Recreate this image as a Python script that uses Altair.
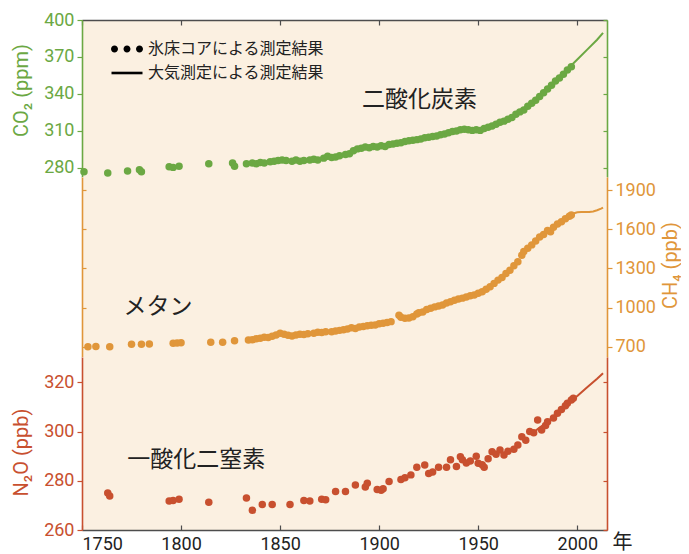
import altair as alt
import pandas as pd

# ---------------- data ----------------
co2_core_year = [1751, 1763, 1773, 1779, 1780, 1794, 1796, 1799, 1814, 1826, 1827,
                 1833, 1836, 1838, 1840, 1842, 1845, 1847, 1849, 1851, 1853, 1856,
                 1858, 1860, 1862, 1865, 1867, 1869, 1872, 1874, 1876, 1878, 1880,
                 1883, 1885, 1887, 1889, 1891, 1893, 1895, 1897,
                 1899, 1901, 1903, 1905, 1907, 1909, 1911, 1913, 1915, 1917,
                 1919, 1921, 1923, 1925, 1927, 1929, 1931, 1933, 1935, 1937,
                 1939, 1941, 1943, 1945, 1947, 1949, 1951, 1953, 1955, 1957,
                 1959, 1961, 1963, 1965, 1967, 1969, 1971, 1973, 1975, 1977,
                 1979, 1981, 1983, 1985, 1987, 1989, 1991, 1993, 1995, 1997]
co2_core_ppm = [277, 276, 277.5, 278.5, 277, 281, 280.5, 281.5, 283.5, 284, 281.5,
                283.5, 284, 283.5, 284.5, 284, 285, 285.5, 286, 286.5, 286, 285.5,
                286.5, 285.5, 286, 286.5, 287, 286.5, 288, 289.5, 288.5, 289, 290,
                291, 291.5, 294, 295.5, 296, 297, 296.5, 297.5,
                297, 298, 297.5, 299, 299.5, 300, 300.5, 301.5, 302, 302.5,
                303, 303.5, 304.5, 305, 305.5, 306, 307, 307.5, 308.5, 309.5,
                310, 311, 311.5, 311, 310.5, 311, 310.5, 312, 313, 314,
                315.5, 317, 318, 319.5, 321, 323.5, 325.5, 327, 330, 332.5,
                335, 338, 341, 344, 347, 350.5, 353, 356, 359.5, 362]
co2_atm_year = [1958, 1960, 1965, 1970, 1975, 1980, 1985, 1990, 1995, 2000, 2005, 2010, 2013]
co2_atm_ppm = [315, 316.5, 319.5, 325, 331, 338, 345, 353, 360, 368, 376, 384, 389.5]

ch4_core_year = [1753, 1757, 1764, 1775, 1780, 1784, 1796, 1798, 1800, 1815,
                 1821, 1827, 1834, 1836, 1838, 1840, 1842, 1844, 1846, 1848,
                 1850, 1852, 1854, 1856, 1858, 1860, 1862, 1864, 1867, 1869,
                 1871, 1873, 1876, 1878, 1880, 1882, 1884, 1886, 1888, 1890,
                 1892, 1894, 1896, 1898, 1900, 1902, 1904, 1906, 1910, 1911,
                 1913, 1915, 1917, 1919, 1920, 1922, 1924, 1926, 1928, 1930,
                 1932, 1934, 1936, 1938, 1940, 1942, 1944, 1946, 1948, 1950,
                 1952, 1954, 1956, 1958, 1960, 1962, 1964, 1966, 1968, 1970,
                 1972, 1973, 1975, 1977, 1979, 1981, 1983, 1985, 1986.5, 1988,
                 1990, 1992, 1994, 1996, 1997]
ch4_core_ppb = [700, 702, 700, 718, 718, 720, 726, 728, 730, 734,
                734, 745, 751, 753, 760, 765, 772, 770, 780, 790,
                803, 795, 788, 782, 790, 795, 793, 800, 803, 810,
                808, 815, 815, 820, 825, 830, 835, 845, 840, 850,
                855, 860, 865, 866, 875, 880, 885, 892, 940, 925,
                918, 920, 930, 950, 960, 965, 985, 995, 1005, 1012,
                1020, 1035, 1045, 1055, 1065, 1072, 1080, 1090, 1096, 1110,
                1120, 1140, 1160, 1185, 1210, 1230, 1260, 1285, 1320, 1350,
                1400, 1430, 1455, 1480, 1510, 1540, 1560, 1590, 1580, 1615,
                1640, 1657, 1680, 1700, 1709]
ch4_atm_year = [1981, 1984, 1986, 1988, 1990, 1992, 1994, 1996, 1998, 2000,
                2002, 2004, 2006, 2008, 2010, 2012, 2013]
ch4_atm_ppb = [1545, 1580, 1600, 1625, 1645, 1662, 1685, 1705, 1720, 1730,
               1732, 1731, 1732, 1736, 1745, 1758, 1766]

n2o_core_year = [1763, 1764, 1794, 1796, 1799, 1814, 1833, 1836, 1841, 1846,
                 1855, 1862, 1865, 1871, 1873, 1878, 1883, 1888, 1893, 1894,
                 1899, 1901, 1902, 1905, 1911, 1913, 1916, 1919, 1923, 1925,
                 1927, 1930, 1934, 1936, 1939, 1941, 1942, 1944, 1946, 1949,
                 1950, 1952, 1953, 1955, 1957, 1959, 1961, 1963, 1965, 1968,
                 1970, 1972, 1974, 1976, 1978, 1980, 1982, 1984, 1985, 1988,
                 1990, 1992, 1994, 1995, 1997, 1998]
n2o_core_ppb = [275, 273.8, 271.8, 272, 272.5, 271.3, 273, 268, 270.4, 270.4,
                270.4, 272, 271.8, 272.5, 272.3, 275.6, 275.6, 278.3, 277.5, 279,
                276.5, 276.2, 276.8, 279.7, 280.5, 281.2, 282.4, 285.5, 286.4, 283,
                283.6, 285.5, 285.5, 288.5, 285.8, 289.8, 288.5, 287.2, 288, 290,
                287.1, 286.5, 285.5, 289, 291.8, 290.8, 292.5, 290.5, 292, 292.8,
                294.5, 297.9, 296.5, 300, 299.5, 304.7, 300.6, 302.5, 304, 305.5,
                307.4, 309, 310.5, 311.5, 312.8, 313.5]
n2o_atm_year = [1978, 1980, 1985, 1990, 1995, 2000, 2005, 2010, 2013]
n2o_atm_ppb = [299.5, 301, 304, 307.5, 311, 314.5, 318, 321.5, 323.7]

x_ticks = [1750, 1800, 1850, 1900, 1950, 2000]
co2_ticks = [280, 310, 340, 370, 400]
ch4_ticks = [700, 1000, 1300, 1600, 1900]
n2o_ticks = [260, 280, 300, 320]

legend_labels = ["氷床コアによる測定結果", "大気測定による測定結果"]
gas_names = ["二酸化炭素", "メタン", "一酸化二窒素"]
gas_name_year = [1891.3, 1770.9, 1772.8]
gas_name_value = [335.1, 1006, 288.5]

# ---------------- style ----------------
W = 525
H_CO2, H_CH4, H_N2O = 157, 180, 173
X_DOMAIN = [1750, 2015]
CO2_DOMAIN = [272.7, 400]
CH4_DOMAIN = [621, 2000]
N2O_DOMAIN = [260, 330.3]

GREEN = "#6BA843"
ORANGE = "#E0963A"
RED = "#C8502F"
BG = "#FBF0E1"
DARK = "#4d4d4d"
INK = "#222222"
NUM_FONT = "Roboto"
JP_FONT = "Noto Sans CJK JP"

# legend symbols (unit coordinates; filled shapes)
DOTS_PATH = ("M-3.2,0a0.7,0.7 0 1,0 1.4,0a0.7,0.7 0 1,0 -1.4,0"
             "M-0.7,0a0.7,0.7 0 1,0 1.4,0a0.7,0.7 0 1,0 -1.4,0"
             "M1.8,0a0.7,0.7 0 1,0 1.4,0a0.7,0.7 0 1,0 -1.4,0")
LINE_PATH = "M-3.1,-0.26H3.1V0.26H-3.1Z"


def xs():
    return alt.Scale(domain=X_DOMAIN, nice=False, zero=False)


def ys(dom):
    return alt.Scale(domain=dom, nice=False, zero=False)


def y_labeled(orient, color, ticks, title, title_pad, title_y, angle=None, baseline=None):
    kw = dict(orient=orient, values=ticks, title=title, grid=False, format="d",
              domainColor=color, domainWidth=1.6, tickColor=color, tickSize=5,
              tickWidth=1.2, labelColor=color, labelFont=NUM_FONT, labelFontSize=18,
              labelPadding=3, titleColor=color, titleFont=NUM_FONT,
              titleFontSize=20, titleFontWeight="normal", titlePadding=title_pad,
              titleY=title_y)
    if angle is not None:
        kw["titleAngle"] = angle
    if baseline is not None:
        kw["titleBaseline"] = baseline
    return alt.Axis(**kw)


def y_inward(orient, color, ticks):
    return alt.Axis(orient=orient, offset=-W, values=ticks, labels=False, title=None,
                    grid=False, domainColor=color, domainWidth=1.6, tickColor=color,
                    tickSize=4, tickWidth=1.2)


def points(years, vals, color, dom, xaxis, yaxis):
    df = pd.DataFrame({"year": years, "value": vals})
    return alt.Chart(df).mark_circle(size=56, color=color, opacity=1).encode(
        x=alt.X("year:Q", scale=xs(), axis=xaxis),
        y=alt.Y("value:Q", scale=ys(dom), axis=yaxis),
    )


def line(years, vals, color, dom, xaxis, yaxis):
    df = pd.DataFrame({"year": years, "value": vals})
    return alt.Chart(df).mark_line(color=color, strokeWidth=2).encode(
        x=alt.X("year:Q", scale=xs(), axis=xaxis),
        y=alt.Y("value:Q", scale=ys(dom), axis=yaxis),
    )


def name_label(i, dom):
    df = pd.DataFrame({"year": [gas_name_year[i]], "value": [gas_name_value[i]],
                       "name": [gas_names[i]]})
    return alt.Chart(df).mark_text(align="left", baseline="middle", font=JP_FONT,
                                   fontSize=23, color=INK).encode(
        x=alt.X("year:Q", scale=xs(), axis=None),
        y=alt.Y("value:Q", scale=ys(dom), axis=None),
        text="name:N",
    )


# legend carrier (points placed outside the x domain and clipped away)
legend_df = pd.DataFrame({"kind": legend_labels, "year": [1700, 1700],
                          "value": [CO2_DOMAIN[0], CO2_DOMAIN[0]]})
legend_layer = alt.Chart(legend_df).mark_point(
    filled=True, clip=True, size=100, color="black"
).encode(
    x=alt.X("year:Q", scale=xs(), axis=None),
    y=alt.Y("value:Q", scale=ys(CO2_DOMAIN), axis=None),
    shape=alt.Shape("kind:N", sort=legend_labels,
                    scale=alt.Scale(domain=legend_labels, range=[DOTS_PATH, LINE_PATH]),
                    legend=alt.Legend(title=None, orient="none", legendX=37, legendY=21,
                                      labelFont=JP_FONT, labelFontSize=16, labelColor=INK,
                                      labelLimit=400, symbolSize=100,
                                      symbolFillColor="black", symbolStrokeWidth=0,
                                      symbolOpacity=1, labelOffset=13, rowPadding=8)),
)

top_xaxis = alt.Axis(orient="bottom", offset=-H_CO2, values=x_ticks, labels=False,
                     title=None, grid=False, domainColor=DARK, domainWidth=1.6,
                     tickColor=DARK, tickSize=5, tickWidth=1.2)

co2_panel = alt.layer(
    points(co2_core_year, co2_core_ppm, GREEN, CO2_DOMAIN, top_xaxis,
           y_labeled("left", GREEN, co2_ticks, "CO₂ (ppm)", 12, 70)),
    line(co2_atm_year, co2_atm_ppm, GREEN, CO2_DOMAIN, None,
         y_inward("left", GREEN, co2_ticks)),
    name_label(0, CO2_DOMAIN),
    legend_layer,
).resolve_scale(x="independent", y="independent").properties(width=W, height=H_CO2)

ch4_panel = alt.layer(
    points(ch4_core_year, ch4_core_ppb, ORANGE, CH4_DOMAIN, None,
           y_inward("right", ORANGE, ch4_ticks)),
    line(ch4_atm_year, ch4_atm_ppb, ORANGE, CH4_DOMAIN, None,
         y_labeled("right", ORANGE, ch4_ticks, "CH₄ (ppb)", 5, 88,
                   angle=270, baseline="top")),
    name_label(1, CH4_DOMAIN),
).resolve_scale(x="independent", y="independent").properties(width=W, height=H_CH4)

bottom_xaxis = alt.Axis(orient="bottom", values=x_ticks, format="d", ticks=False,
                        tickSize=0, labelFont=NUM_FONT, labelFontSize=18, labelColor=INK,
                        labelPadding=5, grid=False, domainColor=DARK, domainWidth=1.6,
                        title="年", titleFont=JP_FONT, titleFontSize=20,
                        titleFontWeight="normal", titleColor=INK, titleAngle=0,
                        titleX=540, titleY=12, titleAlign="center",
                        titleBaseline="middle")
inner_ticks_xaxis = alt.Axis(orient="top", offset=-H_N2O, values=x_ticks, labels=False,
                             title=None, grid=False, domain=False, tickColor=DARK,
                             tickSize=5, tickWidth=1.2)

n2o_panel = alt.layer(
    points(n2o_core_year, n2o_core_ppb, RED, N2O_DOMAIN, bottom_xaxis,
           y_labeled("left", RED, n2o_ticks, "N₂O (ppb)", 12, 95)),
    line(n2o_atm_year, n2o_atm_ppb, RED, N2O_DOMAIN, inner_ticks_xaxis,
         y_inward("left", RED, n2o_ticks)),
    name_label(2, N2O_DOMAIN),
).resolve_scale(x="independent", y="independent").properties(width=W, height=H_N2O)

chart = alt.vconcat(co2_panel, ch4_panel, n2o_panel, spacing=0, bounds="flush").resolve_scale(
    shape="independent"
).properties(
    padding={"left": 3, "top": 3, "right": 0, "bottom": 0},
    background="white",
).configure_view(fill=BG, stroke=None)

chart.save("out.html", embed_options={"renderer": "svg", "actions": False})
